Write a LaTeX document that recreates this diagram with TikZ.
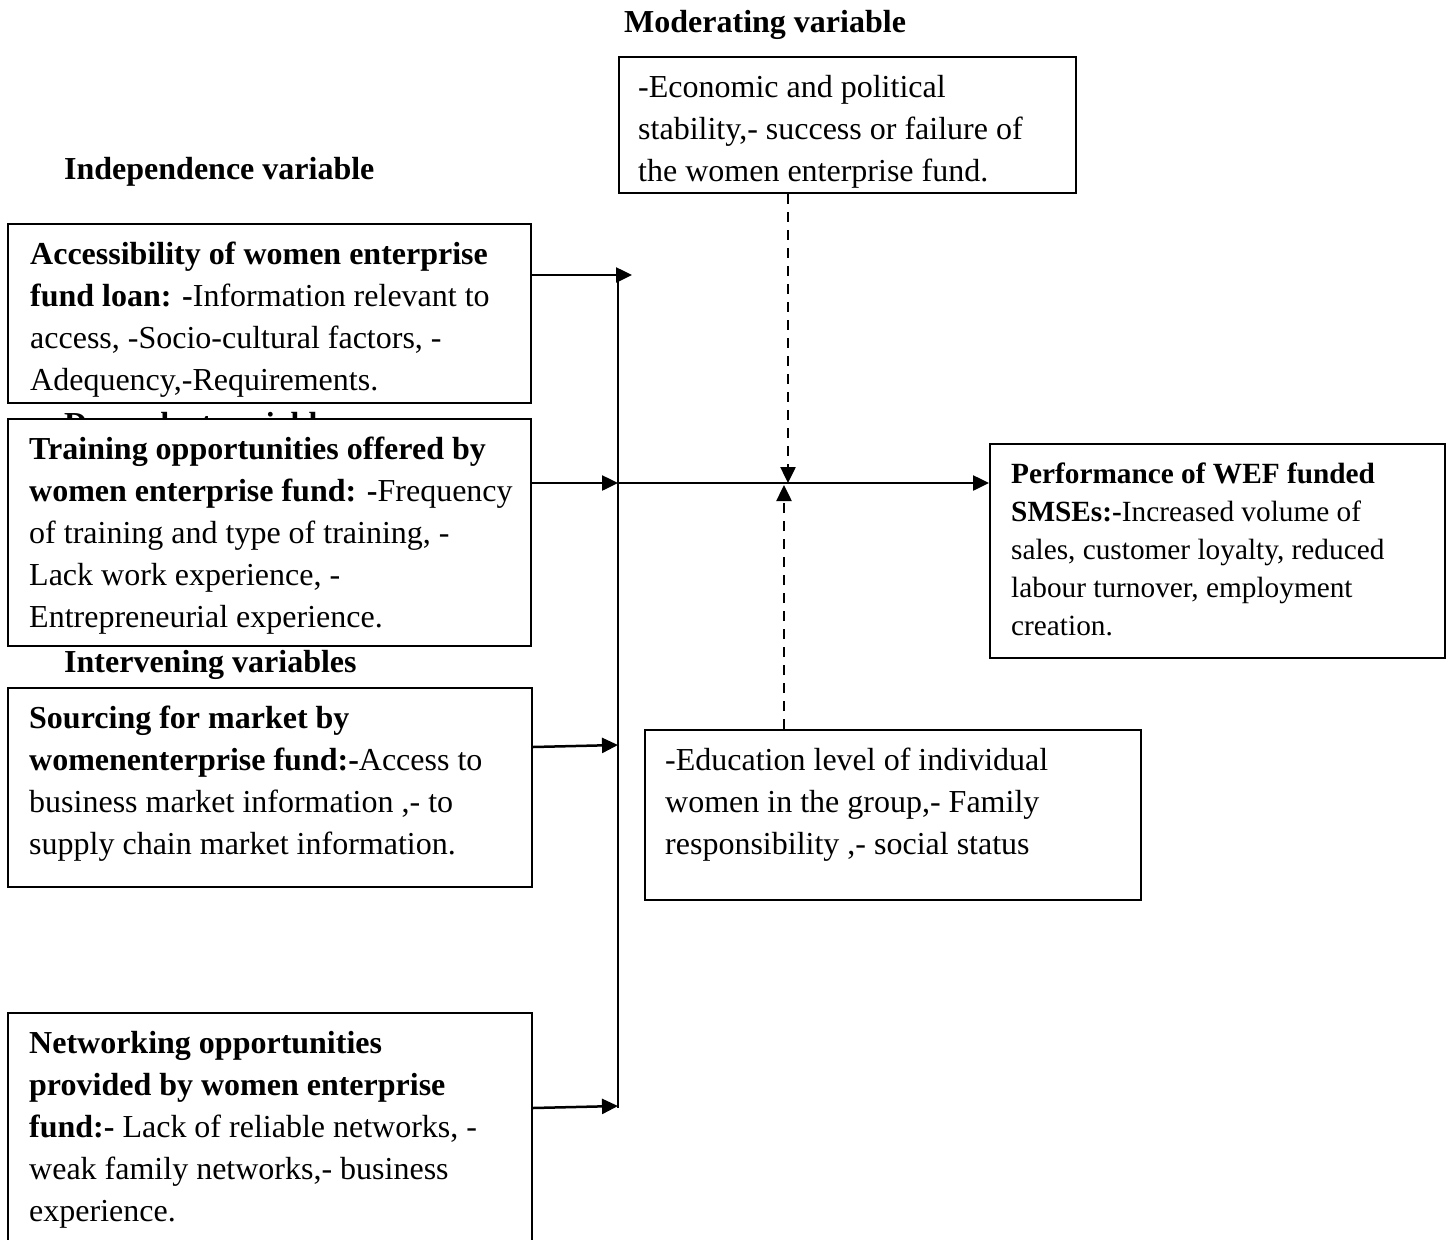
\documentclass[tikz,border=0pt]{standalone}
\usepackage{fontspec}
\setmainfont{Liberation Serif}
\usetikzlibrary{arrows.meta}
\begin{document}
\begin{tikzpicture}[x=1pt,y=-1pt,
  box/.style={draw, line width=2pt, fill=white, inner sep=0pt, rectangle},
  txt/.style={anchor=north west, inner sep=0pt, align=left, font=\fontsize{32}{42}\selectfont},
  ptxt/.style={anchor=north west, inner sep=0pt, align=left, font=\fontsize{29.3}{38}\selectfont},
  ttl/.style={anchor=base west, inner sep=0pt, font=\fontsize{32}{42}\selectfont\bfseries},
  conn/.style={line width=2.5pt, -{Triangle[length=16pt,width=15pt]}},
  dconn/.style={line width=2.5pt, dash pattern=on 10pt off 8pt, -{Triangle[length=16pt,width=15pt]}},
  plainline/.style={line width=2.5pt}]
\useasboundingbox (0,0) rectangle (1453,1239);
\clip (0,0) rectangle (1453,1239);
\fill[white] (0,0) rectangle (1453,1239);

% titles
\node[ttl] (tmodt) at (624,33) {Moderating variable};
\node[ttl] (tind) at (64,179) {Independence variable};
\node[ttl] (tdep) at (64,434) {Dependent variable};
\node[ttl] (tint) at (64,672) {Intervening variables};

% boxes
\node[box, minimum width=523pt, minimum height=179pt] (b1) at (269.5,313.5) {};
\node[box, minimum width=523pt, minimum height=227pt] (b2) at (269.5,532.5) {};
\node[box, minimum width=524pt, minimum height=199pt] (b3) at (270,787.5) {};
\node[box, minimum width=524pt, minimum height=247pt] (b4) at (270,1136.5) {};
\node[box, minimum width=457pt, minimum height=136pt] (mod) at (847.5,125) {};
\node[box, minimum width=455pt, minimum height=214pt] (perf) at (1217.5,551) {};
\node[box, minimum width=496pt, minimum height=170pt] (edu) at (893,815) {};

% texts
\node[txt] (t1) at (30,234.6) {\strut\textbf{Accessibility of women enterprise}\\\strut\textbf{fund loan: -}Information relevant to\\\strut access, -Socio-cultural factors, -\\\strut Adequency,-Requirements.};
\node[txt] (t2) at (29,429.6) {\strut\textbf{Training opportunities offered by}\\\strut\textbf{women enterprise fund: -}Frequency\\\strut of training and type of training, -\\\strut Lack work experience, -\\\strut Entrepreneurial experience.};
\node[txt] (t3) at (29,698.6) {\strut\textbf{Sourcing for market by}\\\strut\textbf{womenenterprise fund:-}Access to\\\strut business market information ,- to\\\strut supply chain market information.};
\node[txt] (t4) at (29,1023.6) {\strut\textbf{Networking opportunities}\\\strut\textbf{provided by women enterprise}\\\strut\textbf{fund:-} Lack of reliable networks, -\\\strut weak family networks,- business\\\strut experience.};
\node[txt] (tm) at (638,67.6) {\strut -Economic and political\\\strut stability,- success or failure of\\\strut the women enterprise fund.};
\node[ptxt] (tp) at (1011,456.4) {\strut\textbf{Performance of WEF funded}\\\strut\textbf{SMSEs:-}Increased volume of\\\strut sales, customer loyalty, reduced\\\strut labour turnover, employment\\\strut creation.};
\node[txt] (te) at (665,740.6) {\strut -Education level of individual\\\strut women in the group,- Family\\\strut responsibility ,- social status};

% coordinates
\coordinate (vtop) at (618,280);
\coordinate (vbot) at (618,1108);
\coordinate (j1) at (632,275);
\coordinate (j2) at (618,483);
\coordinate (md) at (788,483);
\coordinate (mu) at (784,485);
\coordinate (j3) at (618,745);
\coordinate (j4) at (618,1106);

% connectors
\draw[plainline] (vtop) -- (vbot);
\draw[conn] (b1.east |- j1) -- (j1);
\draw[conn] (b2.east |- j2) -- (j2);
\draw[conn] (j2) -- (perf.west |- j2);
\draw[dconn] (mod.south -| md) -- (md);
\draw[dconn] (edu.north -| mu) -- (mu);
\draw[conn] ([yshift=40.5pt]b3.east) -- (j3);
\draw[conn] ([yshift=28.5pt]b4.east) -- (j4);
\end{tikzpicture}
\end{document}
